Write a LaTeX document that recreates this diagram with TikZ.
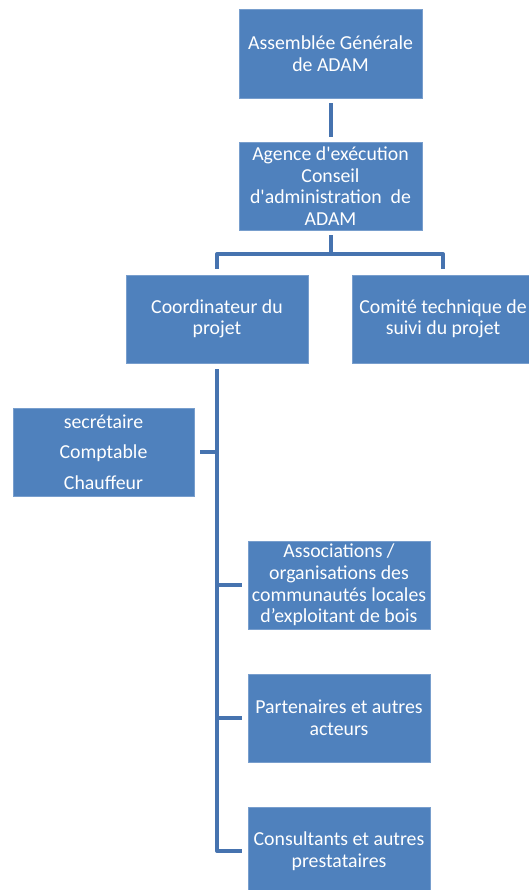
\documentclass[tikz,border=0pt]{standalone}
\usepackage{fontspec}
\setmainfont{Carlito}[Ligatures=TeXOff]
\definecolor{boxblue}{RGB}{79,129,189}
\definecolor{edgeblue}{RGB}{120,158,205}
\definecolor{linkblue}{RGB}{70,115,175}
\begin{document}
\begin{tikzpicture}[x=1pt,y=-1pt,
  orgbox/.style={rectangle, fill=boxblue, draw=edgeblue, line width=0.6pt,
    text=white, align=center, inner sep=0pt,
    font=\fontsize{19.8}{21.6}\selectfont},
  link/.style={draw=linkblue, line width=4pt, line join=round}]
\useasboundingbox (0,0) rectangle (529,890);

\node[orgbox, minimum width=183, minimum height=89] (ag) at (330.5,53.5) {Assemblée Générale\\de ADAM};
\node[orgbox, minimum width=183, minimum height=88] (ae) at (330.5,186) {Agence d'exécution\\Conseil\\d'administration~~de\\ADAM};
\node[orgbox, minimum width=182, minimum height=88] (co) at (217,319) {Coordinateur du\\projet};
\node[orgbox, minimum width=182, minimum height=88] (ct) at (443,319) {Comité technique de\\suivi du projet};
\node[orgbox, minimum width=181, minimum height=88, font=\fontsize{19.8}{30.6}\selectfont] (se) at (103.5,452) {secrétaire\\Comptable\\Chauffeur};
\node[orgbox, minimum width=182, minimum height=88] (as) at (339,585) {Associations /\\organisations des\\communautés locales\\d’exploitant de bois};
\node[orgbox, minimum width=182, minimum height=88] (pa) at (339,718) {Partenaires et autres\\acteurs};
\node[orgbox, minimum width=182, minimum height=88] (cs) at (339,851) {Consultants et autres\\prestataires};

\coordinate (bus) at (330.5,254);

\draw[link] ([yshift=-5pt]ag.south) -- ([yshift=5pt]ae.north);
\draw[link] ([yshift=-5pt]ae.south) -- (bus);
\draw[link] ([yshift=6pt]co.north) |- (bus) -| ([yshift=6pt]ct.north);
\draw[link] ([yshift=-6pt]co.south) |- ([xshift=-6pt]cs.west);
\draw[link] ([xshift=-6pt]as.west) -- (as.west -| co.south);
\draw[link] ([xshift=-6pt]pa.west) -- (pa.west -| co.south);
\draw[link] ([xshift=6pt]se.east) -- (se.east -| co.south);
\end{tikzpicture}
\end{document}
